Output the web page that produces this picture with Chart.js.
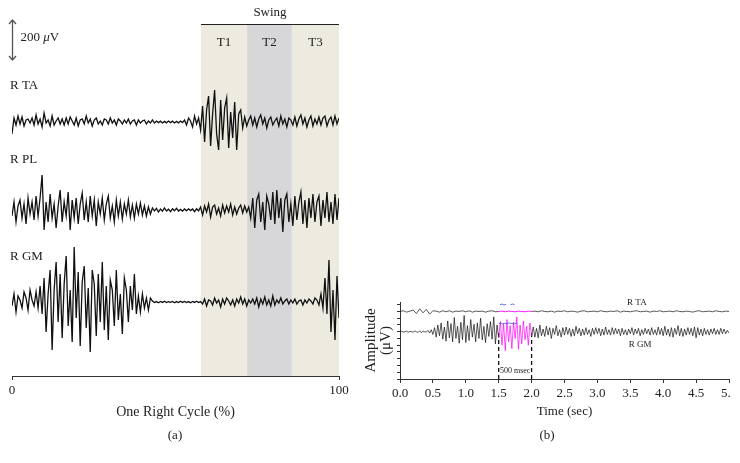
<!DOCTYPE html>
<html>
<head>
<meta charset="utf-8">
<script src="https://cdn.jsdelivr.net/npm/chart.js@4/dist/chart.umd.min.js"></script>
<style>
  body { margin: 0; background: #fff; width: 740px; height: 463px; position: relative; overflow: hidden; }
  #cycle { position: absolute; left: 0; top: 0; }
  #time { position: absolute; left: 360px; top: 280px; }
</style>
</head>
<body>
<canvas id="cycle" width="370" height="463"></canvas>
<canvas id="time" width="371" height="183"></canvas>
<script>
Chart.defaults.font.family = "'Liberation Serif', 'DejaVu Serif', serif";
Chart.defaults.font.size = 13;
Chart.defaults.color = '#222';

// (a) one right cycle, EMG (uV) around each trace's baseline, 164 samples over 0-100 %
var cycleTA = [
  -60, 20, -15, 30, -10, 25, -20, 10, 15, -5, 20, -15, 35, -10, 15, -25, 45, -5, 10, -20, 30, -15, 5, 20, -10,
  15, -15, 20, -10, 25, 5, -15, 20, -20, 10, 15, -10, 30, -5, 15, -20, 10, 20, -10, 5, -15, 15, 10, -10, 20,
  -5, 10, -15, 15, 5, -10, 10, -5, 15, -10, 5, 10, -15, 10, -5, 5, 10, -10, 5, -5, 10,
  -5, 5, -3, 4, -5, 3, -4, 5, -3, 4, -5, 3, -4, 5, -3,
  10, -15, 20, 5, -25, 30, -10, 20,
  -40, 80, -100, 60, 130, -120, 40, 160, -60, -140, 110, -90, 70, 120, -130, 50, -80, 100, -140, 40, 60, -30,
  25, -20, 10, 30, -15, 20, -25, 15, 35, -10, 20, -30, 10, 25, -15, 5, 20, -20, 30, -10, 15, -25, 20, 10,
  -15, 25, -20, 15, 35, -10, 20, -25, 10, 30, -20, 15, -10, 25, -15, 20, 30, -20, 10, 25, -15, 30, -10, 20
];
var cyclePL = [
  -30, 40, -60, 20, 50, -40, 30, -70, 60, -20, 40, -50, 70, -30, 60, 175, -100, 40, -60, 80,
  -40, 30, -90, 20, 100, -60, 40, -30, 90, -100, 50, -40, 60, -70, 30, 85, -50, 40, -60, 70,
  -30, 50, -80, 40, -20, 60, -50, 30, 70, -40, 20, -60, 50, -30, 40, -45, 30, -20, 50, -35,
  25, -40, 30, -20, 35, -25, 20, -30, 15, -20,
  10, -5, 8, -10, 5, -6, 10, -5, 4, -8, 6, -4, 8, -5, 3, -6, 5, -4, 6, -3, 5, -8, 6, -4,
  15, -25, 20, -10, 30, -35, 15, 25, -20, 10, -30, 25, -15, 20, -10, 30, -25, 15, -20, 10, 25, -15, 20, -10, 15,
  -40, 60, -90, 50, 80, -60, 40, -100, 70, 30, -50, 90, -70, 100, -40, 60, -110, 50, 80, -60,
  30, -80, 70, -50, 40, 90, -70, 50, -90, 60, -40, 80, -60, 40, 70, -80, 50, -40, 90, -60,
  40, -70, 80, -50, 60
];
var cycleGM = [
  -20, 40, -50, 30, 10, -30, 50, 20, -40, 60, 10, -20, 50, -30,
  80, -60, 120, -150, 40, 160, -240, 60, 200, -100, 140, -180, 90, 230, -120, 60, -200, 275, -80, 150,
  -220, 100, 180, -130, 70, -250, 160, 90, -170, 140, -100, 200, -140, 80, -190, 110, 60, -120, 160, -90,
  40, -160, 120, 60, -100, 80, -40, 140, -60, 30, -50, 40, -30, 20, -40, 20,
  5, -3, 2, -4, 3, -2, 4, -3, 2, -2, 3, -4, 2, -3, 4, -2, 3, -3, 2, -4, 3, -2, 4, -3, 2,
  -10, 15, -20, 10, 5, -15, 20, -5, 10, -25, 15, -10, 20, 5, -15, 10, -20, 15, -5, 25,
  -10, 15, -20, 10, -5, 15, -10, 20, -25, 15, -10, 25, -15, 10, -20, 30, -15, 10, -5, 20,
  -10, 5, 15, -10, 10, -5, 15, -10, 5, 10, -15, 10, -5, 15, 5, -10, 20, 10, -15,
  40, -30, 120, -60, 210, -150, 60, -190, 130, -80
];
var cycleMuscles = ['R TA', 'R PL', 'R GM'];
var cycleBase = [1270, 830, 370];
var cycleLabelAt = [1450, 1080, 595];
var phaseNames = ['T1', 'T2', 'T3'];
var phaseEdges = [57.8, 71.9, 85.6, 100];
var phaseColors = ['#edeae0', '#d7d7d9', '#edeae0'];

// (b) raw recording 0-5 s; TA every 0.05 s, GM every 0.025 s (offsets from baseline)
var rawTA = [
  0, 0.1, -0.1, 0.05, 0.2, -0.3, 0.4, -0.2, 0.3, -0.4, 0.1, 0.05, -0.1, 0.1, -0.05, 0.1, -0.1, 0.05, 0, 0.1,
  -0.05, 0.1, -0.1, 0.05, 0, 0.05, -0.1, 0.05, 0.1, -0.05, 0,
  0.05, -0.05, 0.05, 0, -0.05, 0.05, 0, -0.05, 0.05, 0,
  0.05, -0.05, 0.1, 0, -0.05, 0.05, -0.1, 0.05, 0, 0.1, -0.05, 0.05, 0, -0.1, 0.05, 0.1, -0.05, 0, 0.05, -0.05,
  0.1, 0, -0.05, 0.05, 0, 0.1, -0.1, 0.05, 0, -0.05, 0.05, 0.1, -0.05, 0, 0.05, -0.1, 0.05, 0, 0.1, -0.05,
  0, 0.05, -0.05, 0.1, 0, -0.05, 0.05, 0, -0.1, 0.05, 0.1, -0.05, 0, 0.05, -0.05, 0.1, 0, -0.05, 0.05, 0
];
var rawGM = [
  0, 0.05, -0.05, 0, 0.1, -0.1, 0.05, 0, -0.05, 0.1, 0, -0.1, 0.15, -0.15, 0.1, 0, -0.05, 0.2, -0.2, 0.3, -0.4,
  0.6, -0.8, 1.0, -0.6, 1.3, -1.1, 0.7, -1.4, 1.6, -0.9, 1.2, -1.5, 2.1, -1.0, 0.8, -1.7, 1.4, -1.2, 2.4, -1.6,
  0.9, -1.3, 1.8, -0.8, 1.1, -1.5, 1.3, -1.0, 2.0, -1.2, 0.8, -1.6, 1.2, -0.7, 1.5, -1.1, 2.2, -1.8, 1.0, -0.9,
  1.5, -2.0, 1.2, -2.8, 1.8, -1.5, 0.9, -2.5, 1.4, -1.0, 2.2, -2.6, 1.0, -1.8, 1.6, -1.2, 0.8, -2.0, 1.3, -0.6,
  0.7, -0.8, 0.5, -0.9, 1.0, -0.6, 0.4, -0.7, 0.8, -0.5, 0.6, -1.0, 0.5, -0.4, 0.9, -0.6, 0.3, -0.8, 0.6, -0.5,
  0.7, -0.4, 0.5, -0.7, 0.4, -0.6, 0.8, -0.3, 0.5, -0.6, 0.4, -0.5, 0.6, -0.4, 0.3, -0.7, 0.5, -0.4, 0.6, -0.3,
  0.5, -0.6, 0.4, -0.5, 0.7, -0.4, 0.3, -0.5, 0.6, -0.4, 0.5, -0.3, 0.4, -0.6, 0.5, -0.4, 0.3, -0.5, 0.4, -0.3,
  0.6, -0.5, 0.4, -0.3, 0.5, -0.6, 0.3, -0.4, 0.5, -0.3, 0.4, -0.5, 0.6, -0.4, 0.3, -0.5, 0.7, -0.4, 0.5, -0.6,
  0.8, -0.5, 0.4, -0.7, 0.6, -0.8, 0.5, -0.4, 0.9, -0.6, 0.5, -0.7, 0.4, -0.5, 0.6, -0.4, 0.5, -0.6, 0.7, -0.9,
  0.6, -0.5, 0.4, -0.6, 0.5, -0.4, 0.3, -0.5, 0.4, -0.3, 0.5, -0.4, 0.3, -0.4, 0.5, -0.3, 0.4, -0.3, 0.2, -0.2
];
var rawMuscles = ['R TA', 'R GM'];
var rawBase = [10, 7];
var burst = [1.5, 2.0];
var markTimesTA = [1.52, 1.55, 1.58, 1.61, 1.64, 1.68, 1.71, 1.74];
var markTA = [1.0, 1.1, 0.95, 1.05, null, 1.0, 1.1, 1.0];
var markTimesGM = [1.50, 1.53, 1.56, 1.59, 1.62, 1.66, 1.70, 1.74, 1.78];
var markGM = [1.2, 1.3, 1.15, 1.25, 1.2, 1.3, 1.2, 1.25, 1.2];

function series(vals, step, base) {
  return vals.map(function (v, i) {
    return { x: +(i * step).toFixed(4), y: v === null ? null : base + v };
  });
}
function pairs(times, vals, base) {
  return times.map(function (t, i) { return { x: t, y: vals[i] === null ? null : base + vals[i] }; });
}
function between(pts, a, b) {
  return pts.filter(function (p) { return p.x >= a - 1e-6 && p.x <= b + 1e-6; });
}
function trace(data, color, width) {
  return { data: data, borderColor: color, borderWidth: width, pointRadius: 0, tension: 0, fill: false };
}
// keep the plot edges where the figure has them, even if an end label overflows
function noEdgePad(s) { s.paddingLeft = 0; s.paddingRight = 0; }

// ---------- (a)
var cycleDeco = {
  id: 'cycleDeco',
  beforeDatasetsDraw: function (chart) {
    var ctx = chart.ctx, x = chart.scales.x, y = chart.scales.y;
    var top = y.getPixelForValue(1755), bottom = y.getPixelForValue(0);
    ctx.save();
    for (var i = 0; i < phaseNames.length; i++) {
      var x0 = x.getPixelForValue(phaseEdges[i]), x1 = x.getPixelForValue(phaseEdges[i + 1]);
      ctx.fillStyle = phaseColors[i];
      ctx.fillRect(x0, top, x1 - x0, bottom - top);
    }
    ctx.restore();
  },
  afterDraw: function (chart) {
    var ctx = chart.ctx, x = chart.scales.x, y = chart.scales.y;
    ctx.save();
    // swing bracket
    var top = Math.round(y.getPixelForValue(1755)) - 0.5;
    ctx.strokeStyle = '#222';
    ctx.lineWidth = 1;
    ctx.beginPath();
    ctx.moveTo(x.getPixelForValue(phaseEdges[0]), top);
    ctx.lineTo(x.getPixelForValue(100), top);
    ctx.stroke();
    ctx.fillStyle = '#222';
    ctx.font = "13px 'Liberation Serif'";
    ctx.textAlign = 'center';
    ctx.textBaseline = 'middle';
    ctx.fillText('Swing', x.getPixelForValue((phaseEdges[0] + 100) / 2), y.getPixelForValue(1815));
    for (var i = 0; i < phaseNames.length; i++) {
      ctx.fillText(phaseNames[i], x.getPixelForValue((phaseEdges[i] + phaseEdges[i + 1]) / 2), y.getPixelForValue(1665));
    }
    // muscle names
    ctx.textAlign = 'left';
    for (var m = 0; m < cycleMuscles.length; m++) {
      ctx.fillText(cycleMuscles[m], x.getPixelForValue(0) - 2, y.getPixelForValue(cycleLabelAt[m]));
    }
    // 200 uV scale bar
    var bx = x.getPixelForValue(0) + 0.5, y0 = y.getPixelForValue(1780), y1 = y.getPixelForValue(1580);
    ctx.strokeStyle = '#555';
    ctx.lineWidth = 1.3;
    ctx.beginPath();
    ctx.moveTo(bx, y0); ctx.lineTo(bx, y1);
    ctx.moveTo(bx - 3.5, y0 + 4); ctx.lineTo(bx, y0); ctx.lineTo(bx + 3.5, y0 + 4);
    ctx.moveTo(bx - 3.5, y1 - 4); ctx.lineTo(bx, y1); ctx.lineTo(bx + 3.5, y1 - 4);
    ctx.stroke();
    var ty = y.getPixelForValue(1690), tx = bx + 8;
    ctx.fillText('200 ', tx, ty);
    tx += ctx.measureText('200 ').width;
    ctx.font = "italic 13px 'Liberation Serif'";
    ctx.fillText('\u03bc', tx, ty);
    tx += ctx.measureText('\u03bc').width;
    ctx.font = "13px 'Liberation Serif'";
    ctx.fillText('V', tx, ty);
    // panel letter
    ctx.textAlign = 'center';
    ctx.fillText('(a)', 175, 436);
    ctx.restore();
  }
};

new Chart(document.getElementById('cycle'), {
  type: 'line',
  data: {
    datasets: [
      trace(series(cycleTA, 100 / 163, cycleBase[0]), '#111', 1.3),
      trace(series(cyclePL, 100 / 163, cycleBase[1]), '#111', 1.3),
      trace(series(cycleGM, 100 / 163, cycleBase[2]), '#111', 1.3)
    ]
  },
  options: {
    responsive: false,
    animation: false,
    events: [],
    layout: { padding: { left: 12, right: 31, top: 10, bottom: 0 }, autoPadding: false },
    plugins: { legend: { display: false }, tooltip: { enabled: false } },
    scales: {
      x: {
        type: 'linear', min: 0, max: 100,
        border: { color: '#333', width: 1 },
        grid: { drawOnChartArea: false, tickLength: 4, color: '#333' },
        ticks: { stepSize: 100, padding: 3, maxRotation: 0, color: '#222' },
        title: { display: true, text: 'One Right Cycle (%)', font: { size: 14 }, padding: { top: 0, bottom: 42 }, color: '#222' },
        afterFit: function (s) { s.height = 87; noEdgePad(s); }
      },
      y: { display: false, min: 0, max: 1830 }
    }
  },
  plugins: [cycleDeco]
});

// ---------- (b)
var taPts = series(rawTA, 0.05, rawBase[0]);
var gmPts = series(rawGM, 0.025, rawBase[1]);

var timeDeco = {
  id: 'timeDeco',
  afterDraw: function (chart) {
    var ctx = chart.ctx, x = chart.scales.x, y = chart.scales.y;
    ctx.save();
    ctx.fillStyle = '#222';
    ctx.textAlign = 'center';
    ctx.textBaseline = 'middle';
    ctx.font = "9px 'Liberation Serif'";
    ctx.fillText(rawMuscles[0], x.getPixelForValue(3.6), y.getPixelForValue(11.3));
    ctx.fillText(rawMuscles[1], x.getPixelForValue(3.65), y.getPixelForValue(5.05));
    ctx.font = "8px 'Liberation Serif'";
    ctx.fillText('500 msec', x.getPixelForValue((burst[0] + burst[1]) / 2), y.getPixelForValue(1.25));
    ctx.font = "13px 'Liberation Serif'";
    ctx.fillText('(b)', 187, 156);
    ctx.restore();
  }
};

new Chart(document.getElementById('time'), {
  type: 'line',
  data: {
    datasets: [
      trace(pairs(markTimesTA, markTA, rawBase[0]), '#5a5ae6', 0.9),
      trace(pairs(markTimesGM, markGM, rawBase[1]), '#5a5ae6', 0.9),
      trace(between(taPts, burst[0], burst[1]), '#ff00ff', 0.9),
      trace(between(gmPts, burst[0], burst[1]), '#ff00ff', 0.7),
      trace(between(taPts, 0, burst[0]), '#111', 0.7),
      trace(between(taPts, burst[1], 5), '#111', 0.7),
      trace(between(gmPts, 0, burst[0]), '#111', 0.7),
      trace(between(gmPts, burst[1], 5), '#111', 0.7),
      Object.assign(trace([{ x: burst[0], y: 0 }, { x: burst[0], y: rawBase[1] - 0.2 }], '#111', 1.3), { borderDash: [4, 3] }),
      Object.assign(trace([{ x: burst[1], y: 0 }, { x: burst[1], y: rawBase[1] - 0.2 }], '#111', 1.3), { borderDash: [4, 3] })
    ]
  },
  options: {
    responsive: false,
    animation: false,
    events: [],
    layout: { padding: { left: 0, right: 2, top: 22, bottom: 0 }, autoPadding: false },
    plugins: { legend: { display: false }, tooltip: { enabled: false } },
    scales: {
      x: {
        type: 'linear', min: 0, max: 5,
        border: { color: '#333', width: 1 },
        grid: { drawOnChartArea: false, tickLength: 4, color: '#333' },
        ticks: {
          stepSize: 0.5, includeBounds: false, autoSkip: false, maxRotation: 0, padding: 3, color: '#222',
          callback: function (v) { return v.toFixed(1); }
        },
        title: { display: true, text: 'Time (sec)', font: { size: 13 }, padding: { top: 0, bottom: 44 }, color: '#222' },
        afterFit: function (s) { s.height = 84; noEdgePad(s); }
      },
      y: {
        min: 0, max: 11.4,
        border: { color: '#333', width: 1 },
        grid: { drawOnChartArea: false, tickLength: 3, color: '#333' },
        ticks: { display: false, stepSize: 1, includeBounds: false },
        title: { display: true, text: ['Amplitude', '(\u03bcV)'], font: { size: 15, lineHeight: 1.0 }, padding: { top: 4, bottom: 0 }, color: '#222' },
        afterFit: function (s) { s.width = 40; s.paddingTop = 0; s.paddingBottom = 0; }
      }
    }
  },
  plugins: [timeDeco]
});
</script>
</body>
</html>
